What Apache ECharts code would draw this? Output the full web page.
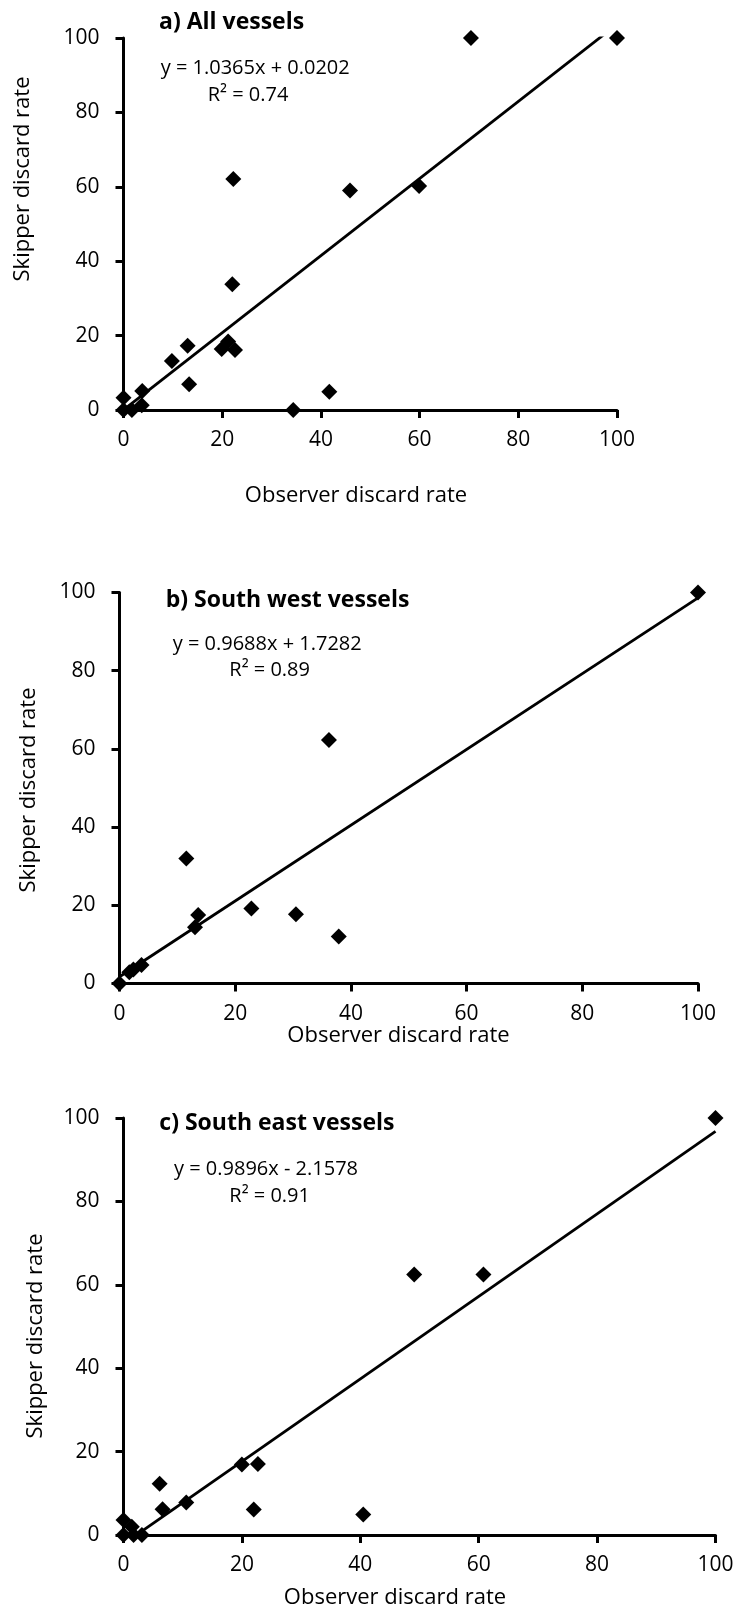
<!DOCTYPE html>
<html>
<head>
<meta charset="utf-8">
<script src="https://cdn.jsdelivr.net/npm/echarts@6/dist/echarts.min.js"></script>
<style>
  html, body { margin: 0; padding: 0; background: #fff; }
  #chart { width: 739px; height: 1616px; }
</style>
</head>
<body>
<div id="chart"></div>
<script>
// ---------- data ----------
const xTicks = [0, 20, 40, 60, 80, 100];

// a) All vessels
const obsA  = [0, 0, 1.7, 3.7, 3.8, 9.8, 13.0, 13.3, 19.9, 21.2, 22.6, 22.05, 22.25, 34.4, 41.7, 45.9, 59.9, 70.4, 100];
const skipA = [3.3, 0, 0, 1.3, 5.1, 13.2, 17.3, 6.9, 16.4, 18.4, 16.1, 33.8, 62.1, 0, 4.9, 59.0, 60.2, 100, 100];
const trendA = { slope: 1.0365, intercept: 0.0202, r2: '0.74' };

// b) South west vessels
const obsB  = [0, 1.7, 2.4, 3.8, 11.55, 13.05, 13.6, 22.8, 30.5, 36.2, 37.9, 100];
const skipB = [0, 2.9, 3.6, 4.7, 32.0, 14.4, 17.5, 19.2, 17.7, 62.3, 12.0, 100];
const trendB = { slope: 0.9688, intercept: 1.7282, r2: '0.89' };

// c) South east vessels
const obsC  = [0, 0, 1.4, 1.7, 3.1, 6.1, 6.6, 10.6, 20.0, 22.0, 22.7, 40.5, 49.1, 60.8, 100];
const skipC = [0, 3.6, 2.0, 0, 0, 12.3, 6.2, 7.8, 16.9, 6.1, 17.0, 4.9, 62.5, 62.5, 100];
const trendC = { slope: 0.9896, intercept: -2.1578, r2: '0.91' };

const titles = ['a) All vessels', 'b) South west vessels', 'c) South east vessels'];
const xTitle = 'Observer discard rate';
const yTitle = 'Skipper discard rate';

// ---------- chart ----------
const FONT = '"Open Sans", "Liberation Sans", Arial, sans-serif';
const panels = [
  { obs: obsA, skip: skipA, trend: trendA, sign: '+',
    grid: { left: 123.5, top: 38, width: 493.5, height: 372 },
    title: [159, 22.5], eq: [160.7, 68], r2: [207.7, 95.5], yt: [22.5, 179], xt: [356, 496] },
  { obs: obsB, skip: skipB, trend: trendB, sign: '+',
    grid: { left: 119.5, top: 592.5, width: 578.5, height: 391 },
    title: [165.7, 600.5], eq: [172.7, 644], r2: [229.3, 670.5], yt: [29, 790], xt: [398.5, 1036] },
  { obs: obsC, skip: skipC, trend: trendC, sign: '-',
    grid: { left: 123.5, top: 1118, width: 592, height: 417 },
    title: [159.3, 1123], eq: [174, 1169], r2: [229.3, 1196], yt: [36, 1336], xt: [395, 1598] }
];

function axisCommon(margin) {
  return {
    type: 'value', min: 0, max: 100, interval: 20,
    axisLine: { show: true, onZero: false, lineStyle: { color: '#000', width: 3 } },
    axisTick: { show: true, inside: false, length: 8, lineStyle: { color: '#000', width: 3 } },
    splitLine: { show: false },
    axisLabel: { color: '#000', fontSize: 21, fontFamily: FONT, margin: margin }
  };
}

const grids = [], xAxes = [], yAxes = [], series = [], graphics = [];
panels.forEach((p, i) => {
  grids.push(Object.assign({ containLabel: false }, p.grid));
  xAxes.push(Object.assign(axisCommon(20), { gridIndex: i }));
  yAxes.push(Object.assign(axisCommon(24), { gridIndex: i }));
  const pts = p.obs.map((x, k) => [x, p.skip[k]]);
  const x0 = xTicks[0], x1 = xTicks[xTicks.length - 1];
  series.push({
    type: 'line', xAxisIndex: i, yAxisIndex: i, clip: true, z: 2,
    showSymbol: false, symbol: 'none', silent: true,
    lineStyle: { color: '#000', width: 2.8 },
    data: [[x0, p.trend.slope * x0 + p.trend.intercept], [x1, p.trend.slope * x1 + p.trend.intercept]]
  });
  series.push({
    type: 'scatter', xAxisIndex: i, yAxisIndex: i, clip: false, z: 3,
    symbol: 'diamond', symbolSize: 16,
    itemStyle: { color: '#000', opacity: 1 },
    data: pts
  });
  const eqText = 'y = ' + p.trend.slope.toFixed(4) + 'x ' + p.sign + ' ' + Math.abs(p.trend.intercept).toFixed(4);
  graphics.push(
    { type: 'text', x: p.title[0], y: p.title[1],
      style: { text: titles[i], font: 'bold 23px ' + FONT, fill: '#000', align: 'left', verticalAlign: 'middle' } },
    { type: 'text', x: p.eq[0], y: p.eq[1],
      style: { text: eqText, font: '20px ' + FONT, fill: '#000', align: 'left', verticalAlign: 'middle' } },
    { type: 'text', x: p.r2[0], y: p.r2[1],
      style: { text: 'R² = ' + p.trend.r2, font: '20px ' + FONT, fill: '#000', align: 'left', verticalAlign: 'middle' } },
    { type: 'text', x: p.yt[0], y: p.yt[1], rotation: Math.PI / 2,
      style: { text: yTitle, font: '22px ' + FONT, fill: '#000', align: 'center', verticalAlign: 'middle' } },
    { type: 'text', x: p.xt[0], y: p.xt[1],
      style: { text: xTitle, font: '22px ' + FONT, fill: '#000', align: 'center', verticalAlign: 'middle' } }
  );
});

const chart = echarts.init(document.getElementById('chart'), null, { renderer: 'canvas', width: 739, height: 1616 });
chart.setOption({
  backgroundColor: '#fff',
  animation: false,
  grid: grids,
  xAxis: xAxes,
  yAxis: yAxes,
  series: series,
  graphic: graphics
});
</script>
</body>
</html>
